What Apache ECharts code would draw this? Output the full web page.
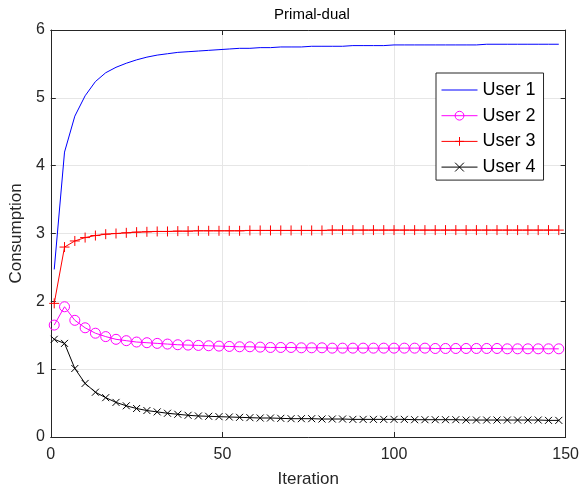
<!DOCTYPE html>
<html><head><meta charset="utf-8">
<script src="https://cdn.jsdelivr.net/npm/echarts@6/dist/echarts.min.js"></script>
<style>html,body{margin:0;padding:0;background:#fff}#c{width:582px;height:493px}</style>
</head><body><div id="c"></div>
<script>
var iterations = [1,4,7,10,13,16,19,22,25,28,31,34,37,40,43,46,49,52,55,58,61,64,67,70,73,76,79,82,85,88,91,94,97,100,103,106,109,112,115,118,121,124,127,130,133,136,139,142,145,148];
var user1 = [2.47,4.20,4.73,5.03,5.24,5.37,5.45,5.51,5.56,5.60,5.63,5.65,5.67,5.68,5.69,5.70,5.71,5.72,5.73,5.73,5.74,5.74,5.75,5.75,5.75,5.76,5.76,5.76,5.76,5.77,5.77,5.77,5.77,5.78,5.78,5.78,5.78,5.78,5.78,5.78,5.78,5.78,5.79,5.79,5.79,5.79,5.79,5.79,5.79,5.79];
var user2 = [1.65,1.92,1.72,1.61,1.53,1.48,1.44,1.42,1.40,1.39,1.38,1.37,1.36,1.355,1.35,1.345,1.34,1.335,1.33,1.33,1.325,1.32,1.32,1.32,1.315,1.315,1.315,1.31,1.31,1.31,1.31,1.31,1.31,1.31,1.31,1.31,1.31,1.305,1.305,1.305,1.305,1.305,1.305,1.305,1.30,1.30,1.30,1.30,1.30,1.30];
var user3 = [1.97,2.80,2.89,2.94,2.97,2.99,3.00,3.01,3.02,3.025,3.03,3.03,3.035,3.035,3.04,3.04,3.04,3.04,3.04,3.045,3.045,3.045,3.045,3.045,3.045,3.045,3.045,3.05,3.05,3.05,3.05,3.05,3.05,3.05,3.05,3.05,3.05,3.05,3.05,3.05,3.05,3.05,3.05,3.05,3.05,3.05,3.05,3.05,3.05,3.05];
var user4 = [1.44,1.38,1.01,0.79,0.66,0.58,0.51,0.46,0.42,0.39,0.37,0.35,0.335,0.32,0.31,0.305,0.30,0.295,0.29,0.285,0.28,0.28,0.275,0.27,0.27,0.27,0.265,0.265,0.265,0.26,0.26,0.26,0.26,0.26,0.26,0.255,0.255,0.255,0.255,0.255,0.25,0.25,0.25,0.25,0.25,0.25,0.25,0.25,0.245,0.245];
var xTicks = [0,50,100,150];
var yTicks = [0,1,2,3,4,5,6];
var seriesNames = ['User 1','User 2','User 3','User 4'];

function pairs(vals){ return vals.map(function(v,i){ return [iterations[i], v]; }); }
var font = 'Liberation Sans, Arial, Helvetica, sans-serif';
var axisCol = '#262626';
var chart = echarts.init(document.getElementById('c'), null, {renderer:'canvas'});
var baseX = {type:'value', min:xTicks[0], max:xTicks[xTicks.length-1], interval:50,
  axisLine:{show:true, onZero:false, lineStyle:{color:axisCol,width:1}},
  axisTick:{show:true, inside:true, length:5, lineStyle:{color:axisCol}},
  splitLine:{show:true, lineStyle:{color:'#e6e6e6',width:1}}};
var baseY = {type:'value', min:yTicks[0], max:yTicks[yTicks.length-1], interval:1,
  axisLine:{show:true, onZero:false, lineStyle:{color:axisCol,width:1}},
  axisTick:{show:true, inside:true, length:5, lineStyle:{color:axisCol}},
  splitLine:{show:true, lineStyle:{color:'#e6e6e6',width:1}}};
var option = {
  animation:false,
  backgroundColor:'#fff',
  title:{text:'Primal-dual', left:307, textAlign:'center', top:2,
    textStyle:{fontFamily:font, fontSize:15, fontWeight:'normal', color:'#000'}},
  grid:{left:47, right:15, top:30, bottom:52},
  xAxis:[
    Object.assign({}, baseX, {position:'bottom', name:'Iteration', nameLocation:'middle', nameGap:34,
      nameTextStyle:{fontFamily:font, fontSize:17, color:'#262626'},
      axisLabel:{fontFamily:font, fontSize:16, color:'#262626', margin:10}}),
    Object.assign({}, baseX, {position:'top', axisLabel:{show:false}, splitLine:{show:false}})
  ],
  yAxis:[
    Object.assign({}, baseY, {position:'left', name:'Consumption', nameLocation:'middle', nameGap:21,
      nameTextStyle:{fontFamily:font, fontSize:17, color:'#262626'},
      axisLabel:{fontFamily:font, fontSize:16, color:'#262626', margin:6}}),
    Object.assign({}, baseY, {position:'right', axisLabel:{show:false}, splitLine:{show:false}})
  ],
  legend:{
    orient:'vertical', left:436, top:73,
    backgroundColor:'#fff', borderColor:axisCol, borderWidth:1,
    padding:[8,8,4,5], itemGap:7.7, itemWidth:36, itemHeight:11,
    itemStyle:{borderWidth:1},
    lineStyle:{width:1},
    textStyle:{fontFamily:font, fontSize:18, color:'#000'},
    data:[
      {name:seriesNames[0], itemStyle:{opacity:0}},
      {name:seriesNames[1]},
      {name:seriesNames[2]},
      {name:seriesNames[3]}
    ]
  },
  series:[
    {name:seriesNames[0], type:'line', data:pairs(user1), showSymbol:false, symbol:'none',
      lineStyle:{color:'#0000ff', width:1}, itemStyle:{color:'#0000ff'}},
    {name:seriesNames[1], type:'line', data:pairs(user2), symbol:'circle', symbolSize:10,
      lineStyle:{color:'#ff00ff', width:1},
      itemStyle:{color:'rgba(0,0,0,0)', borderColor:'#ff00ff', borderWidth:1}},
    {name:seriesNames[2], type:'line', data:pairs(user3), symbol:'path://M5,0L5,10M0,5L10,5', symbolSize:10,
      lineStyle:{color:'#ff0000', width:1},
      itemStyle:{color:'rgba(0,0,0,0)', borderColor:'#ff0000', borderWidth:1}},
    {name:seriesNames[3], type:'line', data:pairs(user4), symbol:'path://M0,0L10,10M10,0L0,10', symbolSize:7,
      lineStyle:{color:'#000000', width:1},
      itemStyle:{color:'rgba(0,0,0,0)', borderColor:'#000000', borderWidth:1}}
  ]
};
chart.setOption(option);
</script></body></html>
